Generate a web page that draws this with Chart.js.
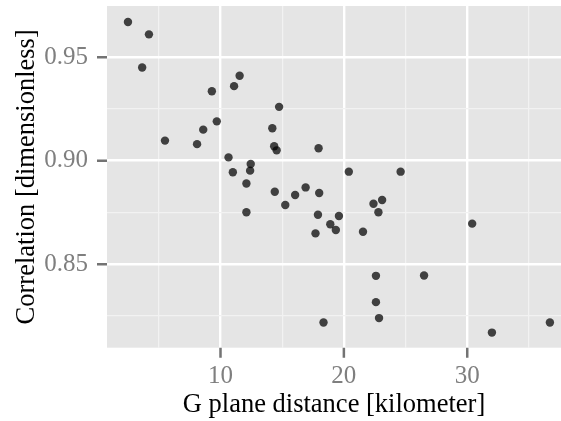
<!DOCTYPE html>
<html>
<head>
<meta charset="utf-8">
<script src="https://cdn.jsdelivr.net/npm/chart.js@4/dist/chart.umd.min.js"></script>
<style>
  html, body { margin: 0; padding: 0; background: #fff; }
  #wrap { width: 561px; height: 421px; }
</style>
</head>
<body>
<div id="wrap"><canvas id="scatter" width="561" height="421"></canvas></div>
<script>
// distance in km vs correlation
const distance = [2.5, 4.2, 3.65, 11.55, 11.1, 9.3, 14.75, 9.7, 8.6, 14.2,
  5.5, 8.1, 14.35, 14.55, 17.95, 10.65, 12.45, 11.0, 12.4, 12.1,
  14.4, 16.05, 16.9, 18.0, 15.25, 12.1, 17.9, 18.9, 17.7, 19.35,
  18.35, 20.4, 24.6, 22.4, 23.1, 22.8, 19.6, 21.55, 30.4, 22.6,
  26.5, 22.6, 22.85, 32.0, 36.7];
const correlation = [0.967, 0.961, 0.945, 0.941, 0.936, 0.9335, 0.926, 0.919, 0.915, 0.9157,
  0.9097, 0.908, 0.907, 0.905, 0.906, 0.9016, 0.8984, 0.8944, 0.8952, 0.889,
  0.885, 0.8834, 0.8871, 0.8844, 0.8786, 0.8751, 0.8739, 0.8693, 0.8649, 0.8665,
  0.8219, 0.8947, 0.8947, 0.8792, 0.881, 0.8751, 0.8733, 0.8657, 0.8696, 0.8444,
  0.8446, 0.8317, 0.824, 0.817, 0.8219];

const xGrid = [5, 10, 15, 20, 25, 30, 35];
const xLabels = [10, 20, 30];
const yGrid = [0.825, 0.85, 0.875, 0.9, 0.925, 0.95];
const yLabels = [0.85, 0.9, 0.95];

const points = distance.map((d, i) => ({ x: d, y: correlation[i] }));

const isMajor = (list, v) => list.some(m => Math.abs(m - v) < 1e-9);

const TICK_LEN = 10;

// grey panel behind the data, ggplot style
const panelBg = {
  id: 'panelBg',
  beforeDraw(chart) {
    const { ctx, chartArea: a } = chart;
    ctx.save();
    ctx.fillStyle = '#E5E5E5';
    ctx.fillRect(a.left, a.top, a.right - a.left, a.bottom - a.top);
    ctx.restore();
  }
};

// short grey tick marks outside the panel at the labelled values
const tickMarks = {
  id: 'tickMarks',
  afterDraw(chart) {
    const { ctx, chartArea: a, scales } = chart;
    ctx.save();
    ctx.strokeStyle = '#737373';
    ctx.lineWidth = 2.5;
    ctx.beginPath();
    for (const v of xLabels) {
      const px = scales.x.getPixelForValue(v);
      ctx.moveTo(px, a.bottom);
      ctx.lineTo(px, a.bottom + TICK_LEN);
    }
    for (const v of yLabels) {
      const py = scales.y.getPixelForValue(v);
      ctx.moveTo(a.left, py);
      ctx.lineTo(a.left - TICK_LEN, py);
    }
    ctx.stroke();
    ctx.restore();
  }
};

const serif = '"Liberation Serif", "Times New Roman", serif';
const tickFont = { family: serif, size: 25 };
const titleFont = { family: serif, size: 26.5, lineHeight: 1 };

new Chart(document.getElementById('scatter'), {
  type: 'scatter',
  data: {
    datasets: [{
      data: points,
      backgroundColor: 'rgba(0,0,0,0.72)',
      borderWidth: 0,
      pointRadius: 4.2,
      pointHoverRadius: 4.2
    }]
  },
  options: {
    responsive: false,
    animation: false,
    layout: { autoPadding: false, padding: { top: 6, right: 0, left: 0, bottom: 0 } },
    plugins: { legend: { display: false }, tooltip: { enabled: false } },
    scales: {
      x: {
        type: 'linear',
        min: 0.8,
        max: 37.6,
        border: { display: false },
        afterBuildTicks: axis => { axis.ticks = xGrid.map(v => ({ value: v })); },
        afterFit: axis => { axis.height = 73.3; axis.paddingLeft = 0; axis.paddingRight = 0; },
        grid: {
          color: c => isMajor(xLabels, c.tick.value) ? '#FFFFFF' : '#F2F2F2',
          lineWidth: c => isMajor(xLabels, c.tick.value) ? 2.4 : 1.2,
          tickColor: 'rgba(0,0,0,0)',
          tickLength: TICK_LEN
        },
        ticks: {
          autoSkip: false,
          maxRotation: 0,
          padding: 4,
          color: '#7F7F7F',
          font: tickFont,
          callback: v => isMajor(xLabels, v) ? String(v) : ''
        },
        title: {
          display: true,
          text: 'G plane distance [kilometer]',
          color: '#000',
          font: titleFont,
          padding: { top: 0, bottom: 2.5 }
        }
      },
      y: {
        type: 'linear',
        min: 0.8097,
        max: 0.9747,
        border: { display: false },
        afterBuildTicks: axis => { axis.ticks = yGrid.map(v => ({ value: v })); },
        afterFit: axis => { axis.width = 107; axis.paddingTop = 0; axis.paddingBottom = 0; },
        grid: {
          color: c => isMajor(yLabels, c.tick.value) ? '#FFFFFF' : '#F2F2F2',
          lineWidth: c => isMajor(yLabels, c.tick.value) ? 2.4 : 1.2,
          tickColor: 'rgba(0,0,0,0)',
          tickLength: TICK_LEN
        },
        ticks: {
          autoSkip: false,
          padding: 9,
          color: '#7F7F7F',
          font: tickFont,
          callback: v => isMajor(yLabels, v) ? v.toFixed(2) : ''
        },
        title: {
          display: true,
          text: 'Correlation [dimensionless]',
          color: '#000',
          font: titleFont,
          padding: { top: 13.5, bottom: 0 }
        }
      }
    }
  },
  plugins: [panelBg, tickMarks]
});
</script>
</body>
</html>
